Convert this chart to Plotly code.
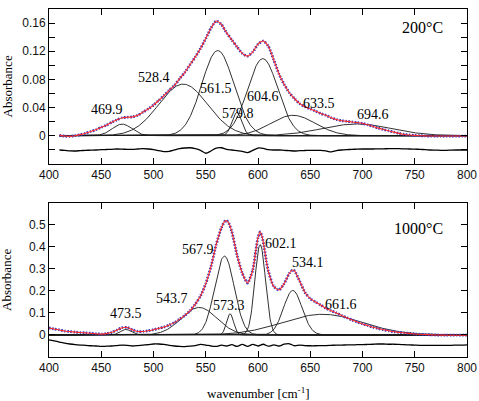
import numpy as np
import plotly.graph_objects as go

# ---------------- 200 °C panel ----------------
wn_200 = list(range(410, 801, 5))
abs_200 = [0.0005, -0.0005, -0.001, 0.0, 0.0015, 0.0035, 0.006, 0.0085, 0.012, 0.015,
           0.019, 0.0225, 0.0255, 0.0262, 0.0268, 0.029, 0.0335, 0.038, 0.0435, 0.050,
           0.057, 0.0645, 0.0715, 0.081, 0.090, 0.101, 0.112, 0.124, 0.138, 0.153,
           0.163, 0.158, 0.146, 0.136, 0.126, 0.117, 0.113, 0.119, 0.130, 0.1345,
           0.127, 0.108, 0.088, 0.073, 0.061, 0.0525, 0.0455, 0.041, 0.038, 0.035,
           0.0315, 0.029, 0.0255, 0.023, 0.0213, 0.0204, 0.0195, 0.0186, 0.0176, 0.0155,
           0.0132, 0.0108, 0.0088, 0.007, 0.0051, 0.0033, 0.0018, 0.001, 0.0004, 0.0,
           -0.0003, -0.0005, -0.0005, -0.0005, -0.0005, -0.0005, -0.0005, -0.0005, -0.0005]
resid_200 = [-0.0203, -0.0208, -0.0215, -0.0217, -0.0212, -0.0208, -0.0205, -0.0203, -0.0198, -0.0196,
             -0.0194, -0.0189, -0.0191, -0.0194, -0.0194, -0.0189, -0.0184, -0.0189, -0.0198, -0.0212,
             -0.0226, -0.0222, -0.0203, -0.0184, -0.0175, -0.0171, -0.0184, -0.0208, -0.0249, -0.0217,
             -0.0175, -0.0171, -0.0194, -0.0203, -0.0212, -0.0222, -0.0240, -0.0208, -0.0175, -0.0180,
             -0.0198, -0.0203, -0.0203, -0.0208, -0.0212, -0.0217, -0.0212, -0.0210, -0.0208, -0.0208,
             -0.0208, -0.0217, -0.0231, -0.0212, -0.0203, -0.0198, -0.0194, -0.0191, -0.0189, -0.0189,
             -0.0189, -0.0187, -0.0187, -0.0184, -0.0184, -0.0184, -0.0187, -0.0189, -0.0191, -0.0194,
             -0.0198, -0.0203, -0.0205, -0.0208, -0.0208, -0.0205, -0.0203, -0.0203, -0.0203]
peak_labels_200 = ["469.9", "528.4", "561.5", "579.8", "604.6", "633.5", "694.6"]
peak_pos_200 = [469.9, 528.4, 561.5, 579.8, 604.6, 633.5, 694.6]
peak_height_200 = [0.0165, 0.0733, 0.121, 0.033, 0.1095, 0.029, 0.0167]
peak_fwhm_200 = [22, 55, 36, 11, 34, 50, 78]

# ---------------- 1000 °C panel ----------------
wn_1000 = [400, 405, 410, 415, 420, 425, 430, 435, 440, 445, 450, 455, 460, 465, 470, 475,
           480, 485, 490, 495, 500, 505, 510, 515, 520, 525, 530, 535, 540, 545, 550, 555,
           560, 565, 568, 570, 572, 575, 580, 585, 590, 595, 598, 600, 602, 604, 606, 608,
           610, 615, 620, 625, 630, 633, 635, 640, 645, 650, 655, 660, 665, 670, 675, 680,
           685, 690, 695, 700, 705, 710, 715, 720, 725, 730, 735, 740, 745, 750, 755, 760,
           765, 770, 775, 780, 785, 790, 795, 800]
abs_1000 = [0.032, 0.027, 0.023, 0.018, 0.0155, 0.013, 0.011, 0.0095, 0.008, 0.0055, 0.004, 0.006,
            0.012, 0.022, 0.033, 0.034, 0.023, 0.016, 0.016, 0.019, 0.024, 0.030, 0.036, 0.045,
            0.056, 0.072, 0.089, 0.110, 0.140, 0.177, 0.233, 0.310, 0.410, 0.487, 0.515, 0.519,
            0.508, 0.468, 0.362, 0.280, 0.236, 0.295, 0.385, 0.442, 0.468, 0.445, 0.395, 0.335,
            0.288, 0.221, 0.204, 0.233, 0.280, 0.295, 0.291, 0.243, 0.193, 0.165, 0.150, 0.136,
            0.121, 0.110, 0.100, 0.0885, 0.078, 0.068, 0.059, 0.050, 0.043, 0.035, 0.0295, 0.0235,
            0.019, 0.0147, 0.012, 0.009, 0.0074, 0.0044, 0.003, 0.002, 0.001, 0.0, -0.0005, -0.001,
            -0.001, -0.001, -0.001, -0.001]
wn_res_1000 = list(range(400, 801, 5))
resid_1000 = [-0.022, -0.027, -0.032, -0.037, -0.041, -0.044, -0.046, -0.047, -0.049, -0.050,
              -0.052, -0.051, -0.050, -0.048, -0.046, -0.047, -0.050, -0.048, -0.046, -0.044,
              -0.041, -0.041, -0.043, -0.047, -0.050, -0.052, -0.053, -0.051, -0.048, -0.043,
              -0.046, -0.050, -0.052, -0.046, -0.050, -0.044, -0.052, -0.043, -0.052, -0.043,
              -0.050, -0.042, -0.051, -0.045, -0.050, -0.042, -0.040, -0.049, -0.046, -0.048,
              -0.049, -0.049, -0.048, -0.048, -0.047, -0.046, -0.046, -0.045, -0.045, -0.044,
              -0.044, -0.043, -0.042, -0.041, -0.041, -0.042, -0.042, -0.043, -0.044, -0.045,
              -0.046, -0.047, -0.047, -0.047, -0.047, -0.047, -0.047, -0.047, -0.046, -0.046,
              -0.045]
peak_labels_1000 = ["473.5", "543.7", "567.9", "573.3", "602.1", "534.1", "661.6"]
peak_pos_1000 = [473.5, 543.7, 567.9, 573.3, 602.1, 633.3, 661.6]
peak_height_1000 = [0.025, 0.125, 0.358, 0.096, 0.41, 0.202, 0.094]
peak_fwhm_1000 = [12, 40, 22, 8, 12, 21, 90]

x_ticks = list(range(400, 801, 50))

# ---------------- figure ----------------
BLUE = "#2b3cc4"
RED = "#ff2a2a"
fig = go.Figure()


def gauss(x, c, h, w):
    return h * np.exp(-4 * np.log(2) * ((x - c) / w) ** 2)


def add_panel(xa, ya, wn, ab, wres, res, pos, hts, fw, xmin):
    grid = np.arange(xmin, 800.01, 0.5)
    for c, h, w in zip(pos, hts, fw):
        fig.add_trace(go.Scatter(x=grid, y=gauss(grid, c, h, w), mode="lines",
                                 line=dict(color="#1a1a1a", width=0.9),
                                 xaxis=xa, yaxis=ya, hoverinfo="skip"))
    fig.add_trace(go.Scatter(x=wres, y=res, mode="lines",
                             line=dict(color="black", width=1.3, shape="spline", smoothing=0.8),
                             xaxis=xa, yaxis=ya))
    fig.add_trace(go.Scatter(x=wn, y=ab, mode="lines",
                             line=dict(color=BLUE, width=2.8, dash="1.5px,1.6px", shape="spline", smoothing=0.6),
                             xaxis=xa, yaxis=ya))
    fig.add_trace(go.Scatter(x=wn, y=ab, mode="lines",
                             line=dict(color=RED, width=1.1, shape="spline", smoothing=0.6),
                             xaxis=xa, yaxis=ya))


add_panel("x", "y", wn_200, abs_200, wn_200, resid_200,
          peak_pos_200, peak_height_200, peak_fwhm_200, 410)
add_panel("x2", "y2", wn_1000, abs_1000, wn_res_1000, resid_1000,
          peak_pos_1000, peak_height_1000, peak_fwhm_1000, 400)

tickfont = dict(family="Liberation Sans, Arial, sans-serif", size=12, color="#111")
xcommon = dict(range=[400, 800], tickvals=x_ticks, ticks="inside", ticklen=6, tickcolor="black",
               showline=True, linecolor="black", linewidth=1, mirror="ticks",
               showgrid=False, zeroline=False, tickfont=tickfont)

top_vals = [round(-0.04 + 0.02 * i, 2) for i in range(12)]
top_text = ["0" if v == 0 else (f"{v:.2f}" if (round(v * 100) % 4 == 0 and v > 0) else " ") for v in top_vals]
bot_vals = [round(-0.1 + 0.1 * i, 1) for i in range(8)]
bot_text = ["0" if v == 0 else (f"{v:.1f}" if 0 < v < 0.55 else " ") for v in bot_vals]

ycommon = dict(ticks="inside", ticklen=6, tickcolor="black", showline=True, linecolor="black",
               linewidth=1, mirror="ticks", showgrid=False, zeroline=False, tickfont=tickfont,
               tickmode="array")

fig.update_layout(
    width=479, height=401,
    margin=dict(l=49, r=11, t=2, b=44),
    paper_bgcolor="white", plot_bgcolor="white",
    showlegend=False,
    xaxis=dict(domain=[0, 1], anchor="y", **xcommon),
    yaxis=dict(domain=[0.555, 1], anchor="x", range=[-0.04, 0.18],
               tickvals=top_vals, ticktext=top_text, **ycommon),
    xaxis2=dict(domain=[0, 1], anchor="y2", **xcommon),
    yaxis2=dict(domain=[0, 0.443], anchor="x2", range=[-0.1, 0.6],
                tickvals=bot_vals, ticktext=bot_text, **ycommon),
)

serif = "Liberation Serif, Times New Roman, serif"
ann = []
lab_xy_200 = [(455.4, 0.0376), (500.5, 0.0825), (560.0, 0.0664), (580.7, 0.0316),
              (604.6, 0.0557), (658.7, 0.0463), (710.3, 0.030)]
for t, (xx, yy) in zip(peak_labels_200, lab_xy_200):
    ann.append(dict(x=xx, y=yy, xref="x", yref="y", text=t, showarrow=False,
                    font=dict(family=serif, size=14, color="black")))
lab_xy_1000 = [(473.5, 0.099), (518.1, 0.167), (542.6, 0.388), (572.1, 0.133),
               (622.1, 0.417), (647.6, 0.329), (679.4, 0.140)]
for t, (xx, yy) in zip(peak_labels_1000, lab_xy_1000):
    ann.append(dict(x=xx, y=yy, xref="x2", yref="y2", text=t, showarrow=False,
                    font=dict(family=serif, size=14, color="black")))
ann.append(dict(x=757.4, y=0.1535, xref="x", yref="y", text="200°C", showarrow=False,
                font=dict(family=serif, size=16, color="black")))
ann.append(dict(x=753.6, y=0.482, xref="x2", yref="y2", text="1000°C", showarrow=False,
                font=dict(family=serif, size=16, color="black")))
for yc in [(0.555 + 1) / 2, 0.443 / 2]:
    ann.append(dict(x=0, y=yc, xref="paper", yref="paper", xshift=-42, text="Absorbance",
                    textangle=-90, showarrow=False, xanchor="center", yanchor="middle",
                    font=dict(family=serif, size=13, color="black")))
ann.append(dict(x=0.5, y=0, xref="paper", yref="paper", yshift=-36, text="wavenumber [cm<sup>-1</sup>]",
                showarrow=False, xanchor="center", yanchor="middle",
                font=dict(family=serif, size=13, color="black")))
fig.update_layout(annotations=ann)

fig.write_html("out.html", config={"displayModeBar": False},
               post_script="document.body.style.margin='0';document.body.style.overflow='hidden';")
